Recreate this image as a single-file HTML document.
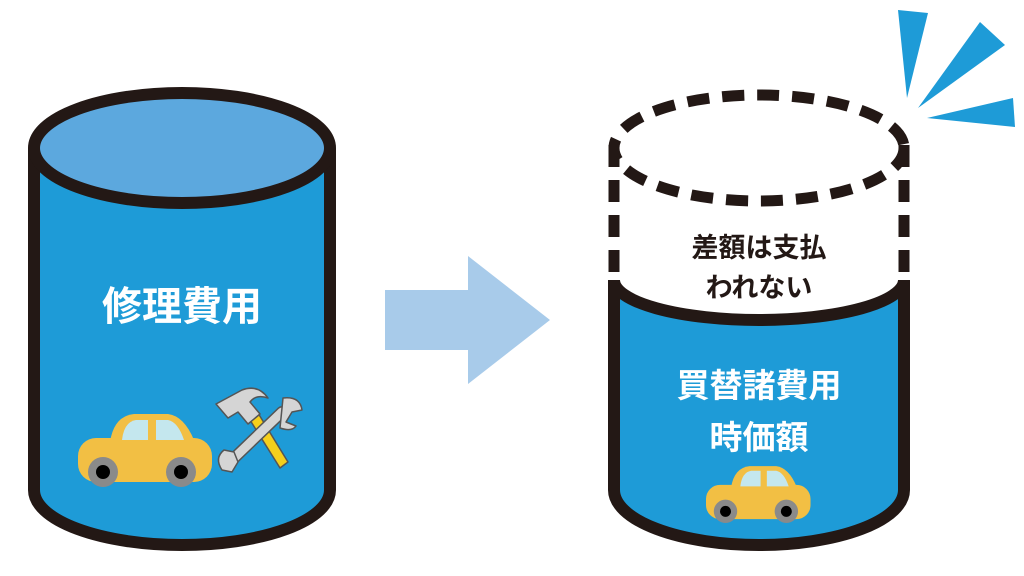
<!DOCTYPE html>
<html><head><meta charset="utf-8"><style>
html,body{margin:0;padding:0;background:#fff;}
svg{display:block}
</style></head><body>
<svg width="1024" height="576" viewBox="0 0 1024 576" xmlns="http://www.w3.org/2000/svg">
<defs>
<g id="car">
  <path d="M32,32 Q36,6 56,4 L90,4 Q106,6 116,30 Z" fill="#f2bf44"/>
  <rect x="0" y="28" width="134" height="44" rx="18" fill="#f2bf44"/>
  <path d="M44,30 Q46,12 58,10 L70,10 L70,30 Z" fill="#c4e7ee"/>
  <path d="M78,10 L90,10 Q100,12 106,30 L78,30 Z" fill="#c4e7ee"/>
  <circle cx="25" cy="62" r="15" fill="#8a8a8a"/><circle cx="25" cy="62" r="7" fill="#000"/>
  <circle cx="103" cy="62" r="15" fill="#8a8a8a"/><circle cx="103" cy="62" r="7" fill="#000"/>
</g>
</defs>
<!-- left cylinder -->
<path d="M34,148 L34,490 A148,55 0 0 0 330,490 L330,148 Z" fill="#1e9bd7"/>
<ellipse cx="182" cy="148" rx="148" ry="55" fill="#5ca8de"/>
<path d="M34,148 L34,490 A148,55 0 0 0 330,490 L330,148" fill="none" stroke="#231815" stroke-width="12"/>
<ellipse cx="182" cy="148" rx="148" ry="55" fill="none" stroke="#231815" stroke-width="12"/>
<text x="182" y="320" text-anchor="middle" font-family="Liberation Sans,'Noto Sans CJK JP',sans-serif" font-weight="bold" font-size="40" fill="#fff">修理費用</text>
<use href="#car" transform="translate(78,410)"/>
<!-- tools -->
<g stroke="#555" stroke-width="1.5" stroke-linejoin="round">
  <path d="M250,420 L258,413 L288,462 L280,468 Z" fill="#f5cf1c"/>
  <path d="M216,404 L242,390 Q258,384 268,398 Q256,394 250,402 L260,414 L248,424 L238,412 L228,418 Z" fill="#d5d5d5"/>
  <path d="M230,462 L282,412" stroke="#555" stroke-width="12" stroke-linecap="round"/>
  <path d="M230,462 L282,412" stroke="#d5d5d5" stroke-width="9" stroke-linecap="round"/>
  <path d="M283,398 Q300,396 302,410 L292,412 L286,422 L296,426 Q292,432 280,428 Z" fill="#d5d5d5"/>
  <path d="M222,470 Q214,458 224,450 L234,452 L238,462 L232,472 Z" fill="#d5d5d5"/>
</g>
<!-- arrow -->
<path d="M385,290 L468,290 L468,256 L550,320 L468,384 L468,350 L385,350 Z" fill="#a8cbea"/>
<!-- right cylinder -->
<path d="M614,280 A145,40 0 0 0 904,280 L904,490 A145,55 0 0 1 614,490 Z" fill="#1e9bd7"/>
<path d="M614,280 A145,40 0 0 0 904,280" fill="none" stroke="#231815" stroke-width="12"/>
<path d="M614,280 L614,490 A145,55 0 0 0 904,490 L904,280" fill="none" stroke="#231815" stroke-width="12"/>
<ellipse cx="759" cy="148" rx="145" ry="53" fill="none" stroke="#231815" stroke-width="11" stroke-dasharray="22,13"/>
<line x1="614" y1="145" x2="614" y2="280" stroke="#231815" stroke-width="11" stroke-dasharray="22,13"/>
<line x1="904" y1="145" x2="904" y2="280" stroke="#231815" stroke-width="11" stroke-dasharray="22,13"/>
<text x="759" y="257" text-anchor="middle" font-family="Liberation Sans,'Noto Sans CJK JP',sans-serif" font-weight="bold" font-size="27" fill="#231815">差額は支払</text>
<text x="759" y="297" text-anchor="middle" font-family="Liberation Sans,'Noto Sans CJK JP',sans-serif" font-weight="bold" font-size="27" fill="#231815">われない</text>
<text x="759" y="397" text-anchor="middle" font-family="Liberation Sans,'Noto Sans CJK JP',sans-serif" font-weight="bold" font-size="33" fill="#fff">買替諸費用</text>
<text x="759" y="449" text-anchor="middle" font-family="Liberation Sans,'Noto Sans CJK JP',sans-serif" font-weight="bold" font-size="33" fill="#fff">時価額</text>
<use href="#car" transform="translate(706,463) scale(0.78)"/>
<!-- burst -->
<polygon points="898,10 928,13 907,98" fill="#1e9bd7"/>
<polygon points="980,22 1005,45 918,108" fill="#1e9bd7"/>
<polygon points="927,118 1013,98 1015,127" fill="#1e9bd7"/>
</svg>
</body></html>
